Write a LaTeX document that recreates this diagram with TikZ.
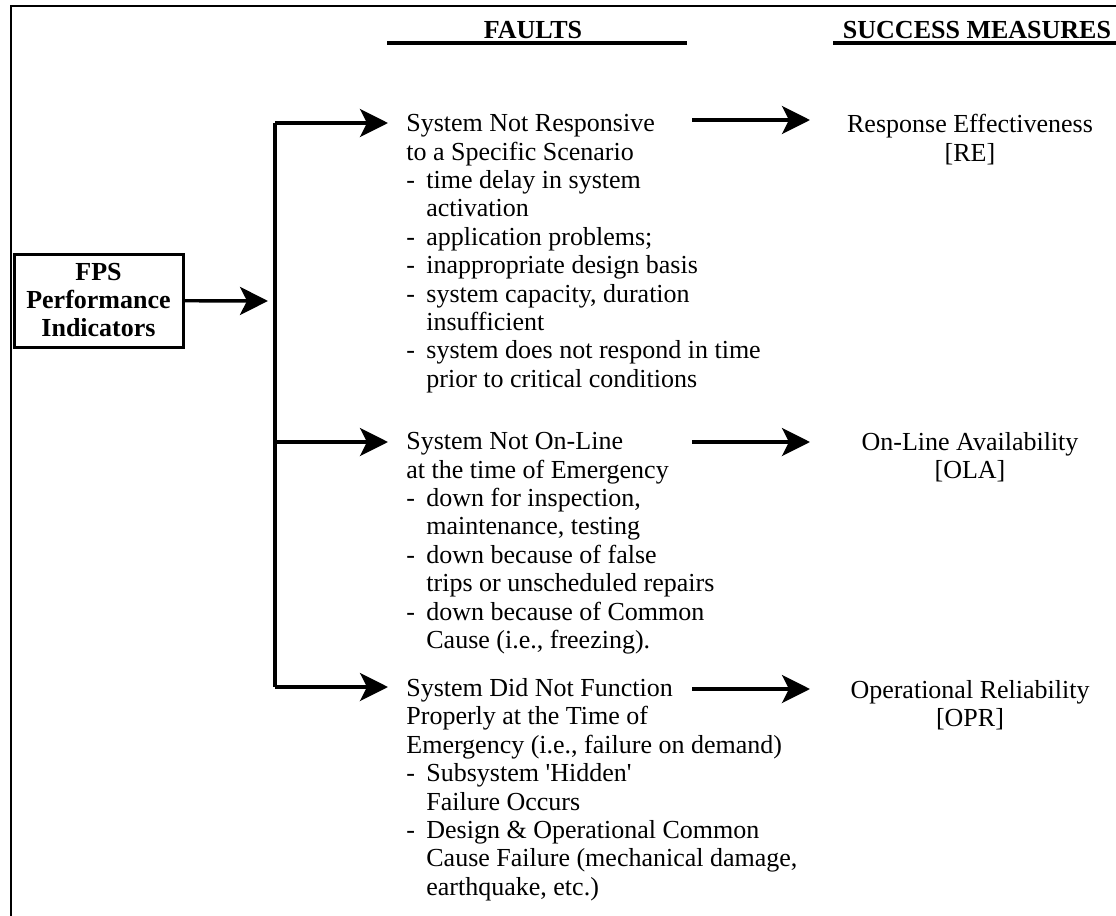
\documentclass[tikz,border=0pt]{standalone}
\usepackage{xcolor}
\usepackage{fontspec}
\setmainfont{Liberation Serif}
\usetikzlibrary{arrows.meta}

\newcommand{\faultitem}{\makebox[10pt][l]{-}}
\newcommand{\faultcont}{\hspace*{10pt}}

\begin{document}
\begin{tikzpicture}[x=0.5pt,y=-0.5pt,
  txt/.style={font=\fontsize{13}{14.2}\selectfont, inner sep=0pt},
  fault/.style={txt, align=left, anchor=north west},
  measure/.style={txt, align=center, anchor=north},
  head/.style={font=\fontsize{13}{15}\selectfont\bfseries, inner sep=0pt, anchor=base},
  fpsbox/.style={rectangle, draw=black, line width=1.5pt, minimum width=84.5pt, minimum height=46.5pt, align=center, inner sep=0pt, font=\fontsize{13}{14}\selectfont\bfseries},
  link/.style={line width=1.7pt, -{Stealth[length=14pt,width=14pt,inset=3.5pt]}},
  bus/.style={line width=2pt}]
\useasboundingbox (0,0) rectangle (1116,916);

% frame and headings
\draw[line width=1pt] (11,916) -- (11,6) -- (1116,6);
\node (faults) [head] at (533,38) {FAULTS};
\node (success) [head] at (977,38) {SUCCESS MEASURES};
\draw[line width=2pt] (387,43) -- (687,43);
\draw[line width=2pt] (833,43) -- (1116,43);

% root box
\node (fps) [fpsbox] at (98.5,300.5) {FPS\\Performance\\Indicators};

% faults
\node (f1) [fault] at (406,114) {System Not Responsive\\to a Specific Scenario\\
\faultitem time delay in system\\\faultcont activation\\
\faultitem application problems;\\
\faultitem inappropriate design basis\\
\faultitem system capacity, duration\\\faultcont insufficient\\
\faultitem system does not respond in time\\\faultcont prior to critical conditions};
\node (f2) [fault] at (406,432) {System Not On-Line\\at the time of Emergency\\
\faultitem down for inspection,\\\faultcont maintenance, testing\\
\faultitem down because of false\\\faultcont trips or unscheduled repairs\\
\faultitem down because of Common\\\faultcont Cause (i.e., freezing).};
\node (f3) [fault] at (406,678) {System Did Not Function\\Properly at the Time of\\
Emergency (i.e., failure on demand)\\
\faultitem Subsystem \textquotesingle Hidden\textquotesingle\\\faultcont Failure Occurs\\
\faultitem Design \& Operational Common\\\faultcont Cause Failure (mechanical damage,\\\faultcont earthquake, etc.)};

% success measures
\node (m1) [measure] at (970,114) {Response Effectiveness\\{}[RE]};
\node (m2) [measure] at (970,432) {On-Line Availability\\{}[OLA]};
\node (m3) [measure] at (970,680) {Operational Reliability\\{}[OPR]};

% connector points
\coordinate (j0) at (268,301);
\coordinate (b1) at (275,123);
\coordinate (b2) at (275,442);
\coordinate (b3) at (275,687);
\coordinate (t1) at (388,123);
\coordinate (t2) at (388,442);
\coordinate (t3) at (388,687);
\coordinate (r1) at (692,120);
\coordinate (s1) at (810,120);
\coordinate (r2) at (692,442);
\coordinate (s2) at (810,442);
\coordinate (r3) at (692,689);
\coordinate (s3) at (810,689);

\draw[link] (fps) -- (j0);
\draw[bus] (b1) -- (b3);
\draw[link] (b1) -- (t1);
\draw[link] (b2) -- (t2);
\draw[link] (b3) -- (t3);
\draw[link] (r1) -- (s1);
\draw[link] (r2) -- (s2);
\draw[link] (r3) -- (s3);
\end{tikzpicture}
\end{document}
